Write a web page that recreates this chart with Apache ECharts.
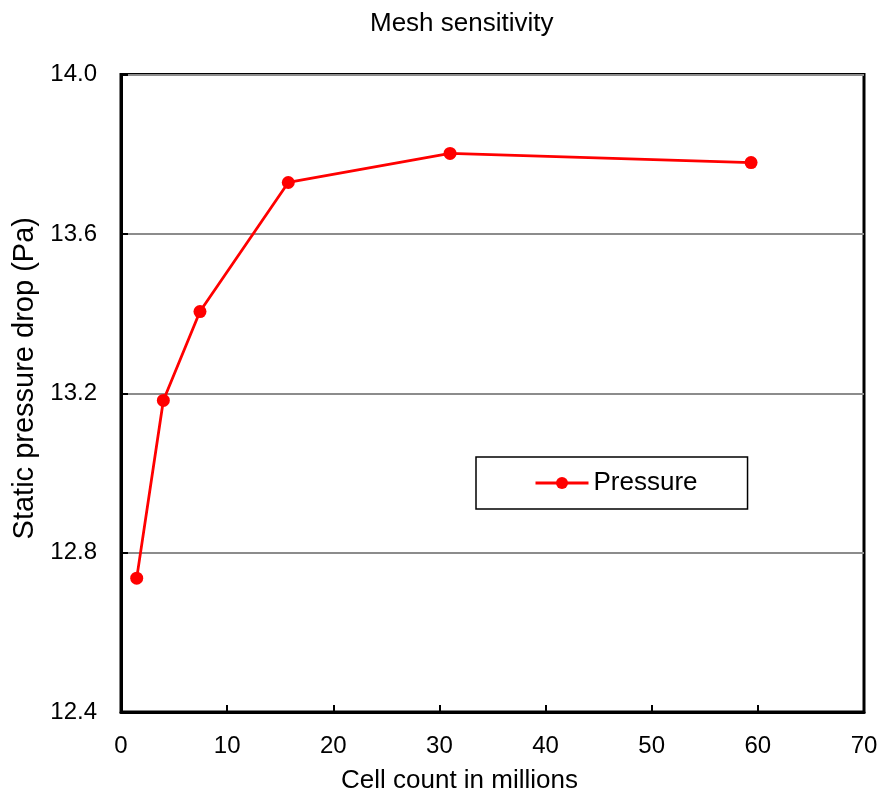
<!DOCTYPE html>
<html>
<head>
<meta charset="utf-8">
<script src="https://cdn.jsdelivr.net/npm/echarts@6/dist/echarts.min.js"></script>
<style>html,body{margin:0;padding:0;background:#fff}#c{width:883px;height:802px}</style>
</head>
<body>
<div id="c"></div>
<script>
const cellCounts = [1.48, 3.99, 7.44, 15.76, 31.0, 59.36];
const pressure = [12.736, 13.182, 13.405, 13.729, 13.802, 13.779];
const seriesName = 'Pressure';
const titleText = 'Mesh sensitivity';
const xName = 'Cell count in millions';
const yName = 'Static pressure drop (Pa)';

const chart = echarts.init(document.getElementById('c'), null, {renderer: 'canvas'});
const font = 'Liberation Sans, Arial, sans-serif';
chart.setOption({
  animation: false,
  backgroundColor: '#fff',
  title: {
    text: titleText, left: 365, top: 6,
    textStyle: {fontFamily: font, fontSize: 26, fontWeight: 'normal', color: '#000'}
  },
  legend: {
    left: 476, top: 457,
    padding: [13, 50, 13, 58],
    borderColor: '#000', borderWidth: 1.5,
    itemWidth: 53, itemHeight: 15, itemGap: 5,
    lineStyle: {width: 3},
    textStyle: {fontFamily: font, fontSize: 26, color: '#000'},
    data: [seriesName]
  },
  grid: {
    left: 121, right: 19, top: 74.5, bottom: 90,
    outerBoundsMode: 'none', containLabel: false,
    show: true, borderColor: '#000', borderWidth: 3, backgroundColor: 'transparent'
  },
  xAxis: {
    type: 'value', min: 0, max: 70, interval: 10,
    name: xName, nameLocation: 'middle', nameGap: 56,
    nameTextStyle: {fontFamily: font, fontSize: 26, color: '#000', padding: [0, 66, 0, 0]},
    axisLine: {show: true, lineStyle: {color: '#000', width: 3}},
    axisTick: {show: true, inside: true, length: 7, lineStyle: {color: '#000', width: 2}},
    axisLabel: {fontFamily: font, fontSize: 24, color: '#000', margin: 22},
    splitLine: {show: false}
  },
  yAxis: {
    type: 'value', min: 12.4, max: 14.0, interval: 0.4,
    name: yName, nameLocation: 'middle', nameGap: 82,
    nameTextStyle: {fontFamily: font, fontSize: 29, color: '#000', padding: [0, 0, 0, 30]},
    axisLine: {show: true, lineStyle: {color: '#000', width: 3}},
    axisTick: {show: true, inside: true, length: 7, lineStyle: {color: '#000', width: 2}},
    axisLabel: {fontFamily: font, fontSize: 24, color: '#000', margin: 24,
      formatter: v => v.toFixed(1)},
    splitLine: {show: true, lineStyle: {color: '#8c8c8c', width: 2}}
  },
  series: [{
    name: seriesName, type: 'line',
    data: cellCounts.map((x, i) => [x, pressure[i]]),
    symbol: 'circle', symbolSize: 13,
    lineStyle: {color: '#ff0000', width: 2.8},
    itemStyle: {color: '#ff0000'}
  }]
});
</script>
</body>
</html>
